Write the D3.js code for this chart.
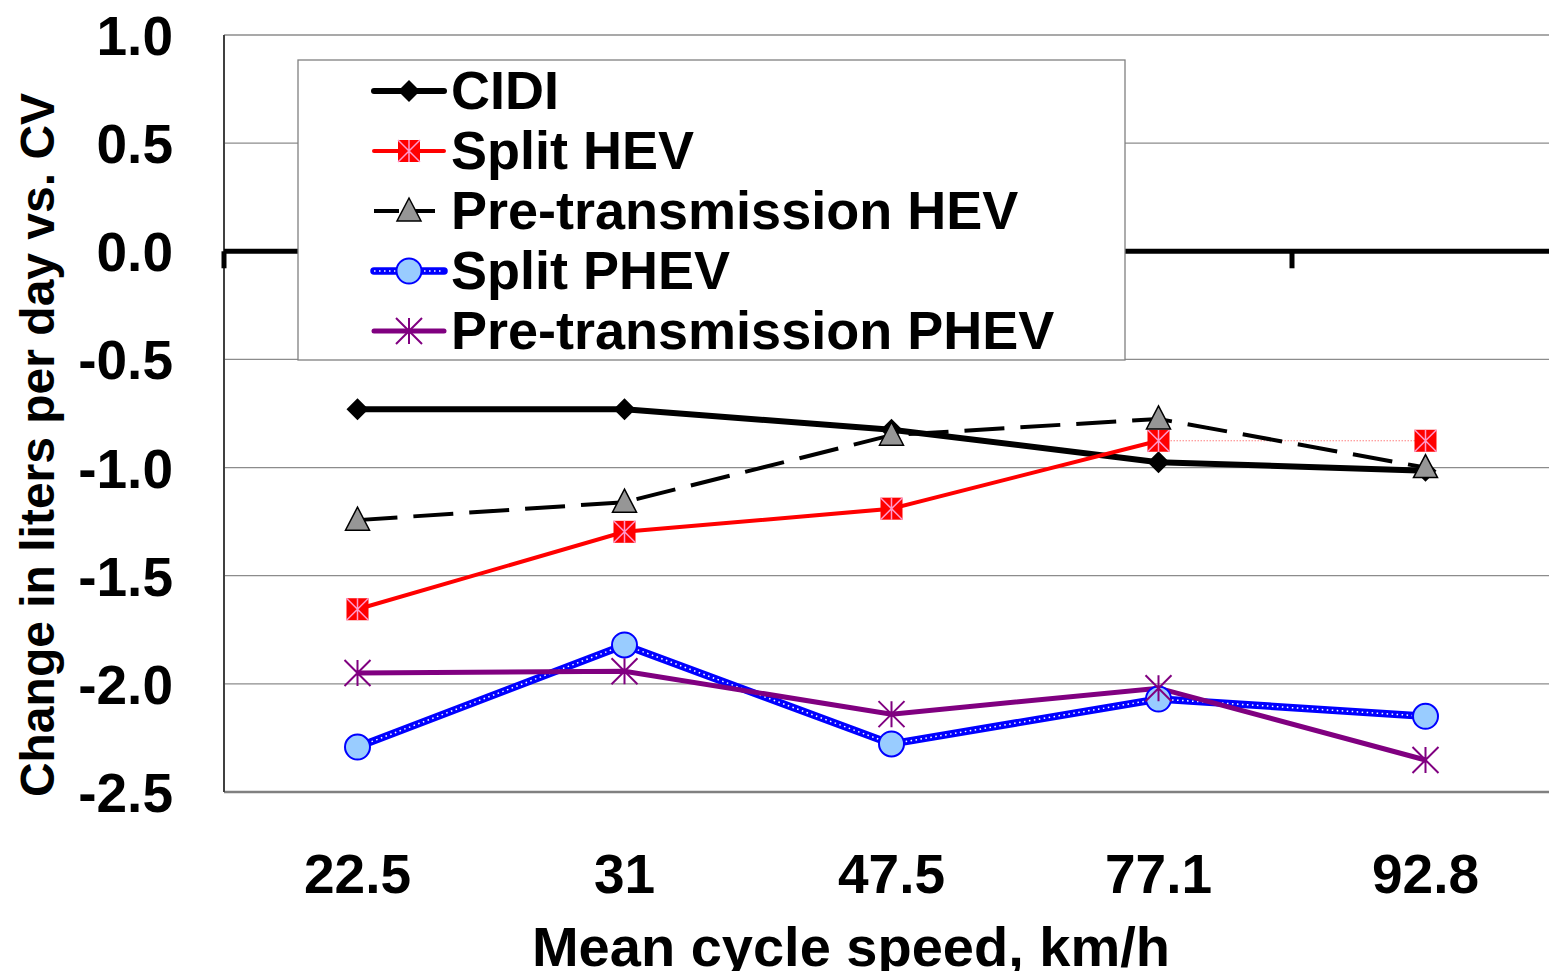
<!DOCTYPE html>
<html><head><meta charset="utf-8">
<script src="https://cdn.jsdelivr.net/npm/d3@7"></script>
<style>html,body{margin:0;padding:0;background:#fff;}svg{display:block;}</style>
</head><body>
<svg id="c" width="1549" height="971"></svg>
<script>
const categories = ["22.5", "31", "47.5", "77.1", "92.8"];
const yTicks = [1.0, 0.5, 0.0, -0.5, -1.0, -1.5, -2.0, -2.5];
const cidi = [-0.73, -0.73, -0.825, -0.975, -1.015];
const splitHEV = [-1.655, -1.297, -1.19, -0.876, -0.876];
const preHEV = [-1.243, -1.16, -0.85, -0.775, -1.0];
const splitPHEV = [-2.292, -1.82, -2.278, -2.07, -2.15];
const prePHEV = [-1.95, -1.942, -2.14, -2.02, -2.352];
const seriesNames = ["CIDI", "Split HEV", "Pre-transmission HEV", "Split PHEV", "Pre-transmission PHEV"];

const svg = d3.select("#c");
const FONT = "'Liberation Sans', Arial, sans-serif";
const L = 224, R = 1559, T = 35, B = 792;
const x = d3.scaleBand().domain(categories).range([L, R]);
const cx = c => x(c) + x.bandwidth() / 2;
const y = d3.scaleLinear().domain([-2.5, 1.0]).range([B, T]);

// gridlines
svg.append("g").selectAll("line").data(yTicks.filter(v => v !== 0 && v !== -2.5)).join("line")
  .attr("x1", L).attr("x2", 1549).attr("y1", d => y(d)).attr("y2", d => y(d))
  .attr("stroke", "#8c8c8c").attr("stroke-width", 1.3);
// bottom line
svg.append("line").attr("x1", L).attr("x2", 1549).attr("y1", B).attr("y2", B)
  .attr("stroke", "#808080").attr("stroke-width", 2.5);
// left axis
svg.append("line").attr("x1", L).attr("x2", L).attr("y1", T).attr("y2", B)
  .attr("stroke", "#404040").attr("stroke-width", 2);

// zero axis with category-boundary ticks
const bounds = categories.map(c => x(c)).concat([R]);
svg.append("line").attr("x1", L).attr("x2", 1549).attr("y1", y(0)).attr("y2", y(0))
  .attr("stroke", "#000").attr("stroke-width", 5);
svg.append("g").selectAll("line").data(bounds).join("line")
  .attr("x1", d => d).attr("x2", d => d).attr("y1", y(0)).attr("y2", y(0) + 17)
  .attr("stroke", "#000").attr("stroke-width", 5);

// y tick labels
svg.append("g").selectAll("text").data(yTicks).join("text")
  .attr("x", 173).attr("y", d => y(d) + 20).attr("text-anchor", "end")
  .attr("font-family", FONT).attr("font-weight", "bold").attr("font-size", 55)
  .text(d => d3.format(".1f")(d).replace("−", "-"));
// x tick labels
svg.append("g").selectAll("text").data(categories).join("text")
  .attr("x", d => cx(d)).attr("y", 893).attr("text-anchor", "middle")
  .attr("font-family", FONT).attr("font-weight", "bold").attr("font-size", 55)
  .text(d => d);
// axis titles
svg.append("text").attr("x", 851).attr("y", 966).attr("text-anchor", "middle")
  .attr("font-family", FONT).attr("font-weight", "bold").attr("font-size", 56)
  .text("Mean cycle speed, km/h");
svg.append("text").attr("transform", "translate(54,445) rotate(-90)").attr("text-anchor", "middle")
  .attr("font-family", FONT).attr("font-weight", "bold").attr("font-size", 48)
  .text("Change in liters per day vs. CV");

const line = d3.line().x(d => cx(d.c)).y(d => y(d.v));
const pts = arr => arr.map((v, i) => ({c: categories[i], v}));

// marker drawers
function diamond(g, px, py) {
  g.append("path").attr("d", `M${px},${py-11}L${px+11},${py}L${px},${py+11}L${px-11},${py}Z`).attr("fill", "#000");
}
function sqStar(g, px, py) {
  const s = 11;
  g.append("rect").attr("x", px - s).attr("y", py - s).attr("width", 2*s).attr("height", 2*s).attr("fill", "#ff0000");
  g.append("path").attr("d", `M${px-s},${py-s}L${px+s},${py+s}M${px+s},${py-s}L${px-s},${py+s}M${px},${py-s}L${px},${py+s}`)
    .attr("stroke", "#ff99cc").attr("stroke-width", 1.5);
}
function tri(g, px, py) {
  g.append("path").attr("d", `M${px},${py-13}L${px+12},${py+10}L${px-12},${py+10}Z`)
    .attr("fill", "#969696").attr("stroke", "#000").attr("stroke-width", 1.5);
}
function circ(g, px, py) {
  g.append("ellipse").attr("cx", px).attr("cy", py).attr("rx", 12.5).attr("ry", 12.5)
    .attr("fill", "#99ccff").attr("stroke", "#0000ff").attr("stroke-width", 2);
}
function star(g, px, py) {
  const s = 13;
  g.append("path").attr("d", `M${px},${py-s}L${px},${py+s}M${px-s},${py-s}L${px+s},${py+s}M${px+s},${py-s}L${px-s},${py+s}`)
    .attr("stroke", "#800080").attr("stroke-width", 2);
}

const plot = svg.append("g");
// CIDI
plot.append("path").attr("d", line(pts(cidi))).attr("fill", "none").attr("stroke", "#000").attr("stroke-width", 6).attr("stroke-linejoin", "round");
// Split HEV: solid through 77.1, thin dotted after
const sh = pts(splitHEV);
plot.append("path").attr("d", line(sh.slice(0, 4))).attr("fill", "none").attr("stroke", "#ff0000").attr("stroke-width", 4);
plot.append("path").attr("d", line(sh.slice(3))).attr("fill", "none").attr("stroke", "#ff8080").attr("stroke-width", 1).attr("stroke-dasharray", "1.5,1.5");
// Pre-transmission HEV
plot.append("path").attr("d", line(pts(preHEV))).attr("fill", "none").attr("stroke", "#000").attr("stroke-width", 4).attr("stroke-dasharray", "40,16");
// Split PHEV
plot.append("path").attr("d", line(pts(splitPHEV))).attr("fill", "none").attr("stroke", "#0000ff").attr("stroke-width", 7.5);
plot.append("path").attr("d", line(pts(splitPHEV))).attr("fill", "none").attr("stroke", "#ffffff").attr("stroke-width", 1.5).attr("stroke-dasharray", "1.5,3.5");
// Pre-transmission PHEV
plot.append("path").attr("d", line(pts(prePHEV))).attr("fill", "none").attr("stroke", "#800080").attr("stroke-width", 5);

// markers
const mg = svg.append("g");
pts(cidi).forEach(d => diamond(mg, cx(d.c), y(d.v)));
sh.forEach(d => sqStar(mg, cx(d.c), y(d.v)));
pts(preHEV).forEach(d => tri(mg, cx(d.c), y(d.v)));
pts(splitPHEV).forEach(d => circ(mg, cx(d.c), y(d.v)));
pts(prePHEV).forEach(d => star(mg, cx(d.c), y(d.v)));

// legend
const lg = svg.append("g");
lg.append("rect").attr("x", 298).attr("y", 60).attr("width", 827).attr("height", 300)
  .attr("fill", "#fff").attr("stroke", "#808080").attr("stroke-width", 1.3);
const styles = [
  {stroke: "#000", w: 6, dash: null, m: diamond},
  {stroke: "#ff0000", w: 4, dash: null, m: sqStar},
  {stroke: "#000", w: 4, dash: "25,11", m: tri},
  {stroke: "#0000ff", w: 7.5, dash: null, m: circ, dots: true},
  {stroke: "#800080", w: 5, dash: null, m: star}
];
seriesNames.forEach((n, i) => {
  const ly = 91 + i * 60;
  const st = styles[i];
  const ln = lg.append("line").attr("x1", 374).attr("x2", 444).attr("y1", ly).attr("y2", ly)
    .attr("stroke", st.stroke).attr("stroke-width", st.w).attr("stroke-linecap", "round");
  if (st.dash) ln.attr("stroke-dasharray", st.dash).attr("stroke-linecap", "butt");
  if (st.dots) lg.append("line").attr("x1", 374).attr("x2", 444).attr("y1", ly).attr("y2", ly)
    .attr("stroke", "#fff").attr("stroke-width", 1.5).attr("stroke-dasharray", "1.5,3.5");
  st.m(lg, 409, ly);
  lg.append("text").attr("x", 451).attr("y", ly + 18)
    .attr("font-family", FONT).attr("font-weight", "bold").attr("font-size", 54).text(n);
});
</script>
</body></html>
